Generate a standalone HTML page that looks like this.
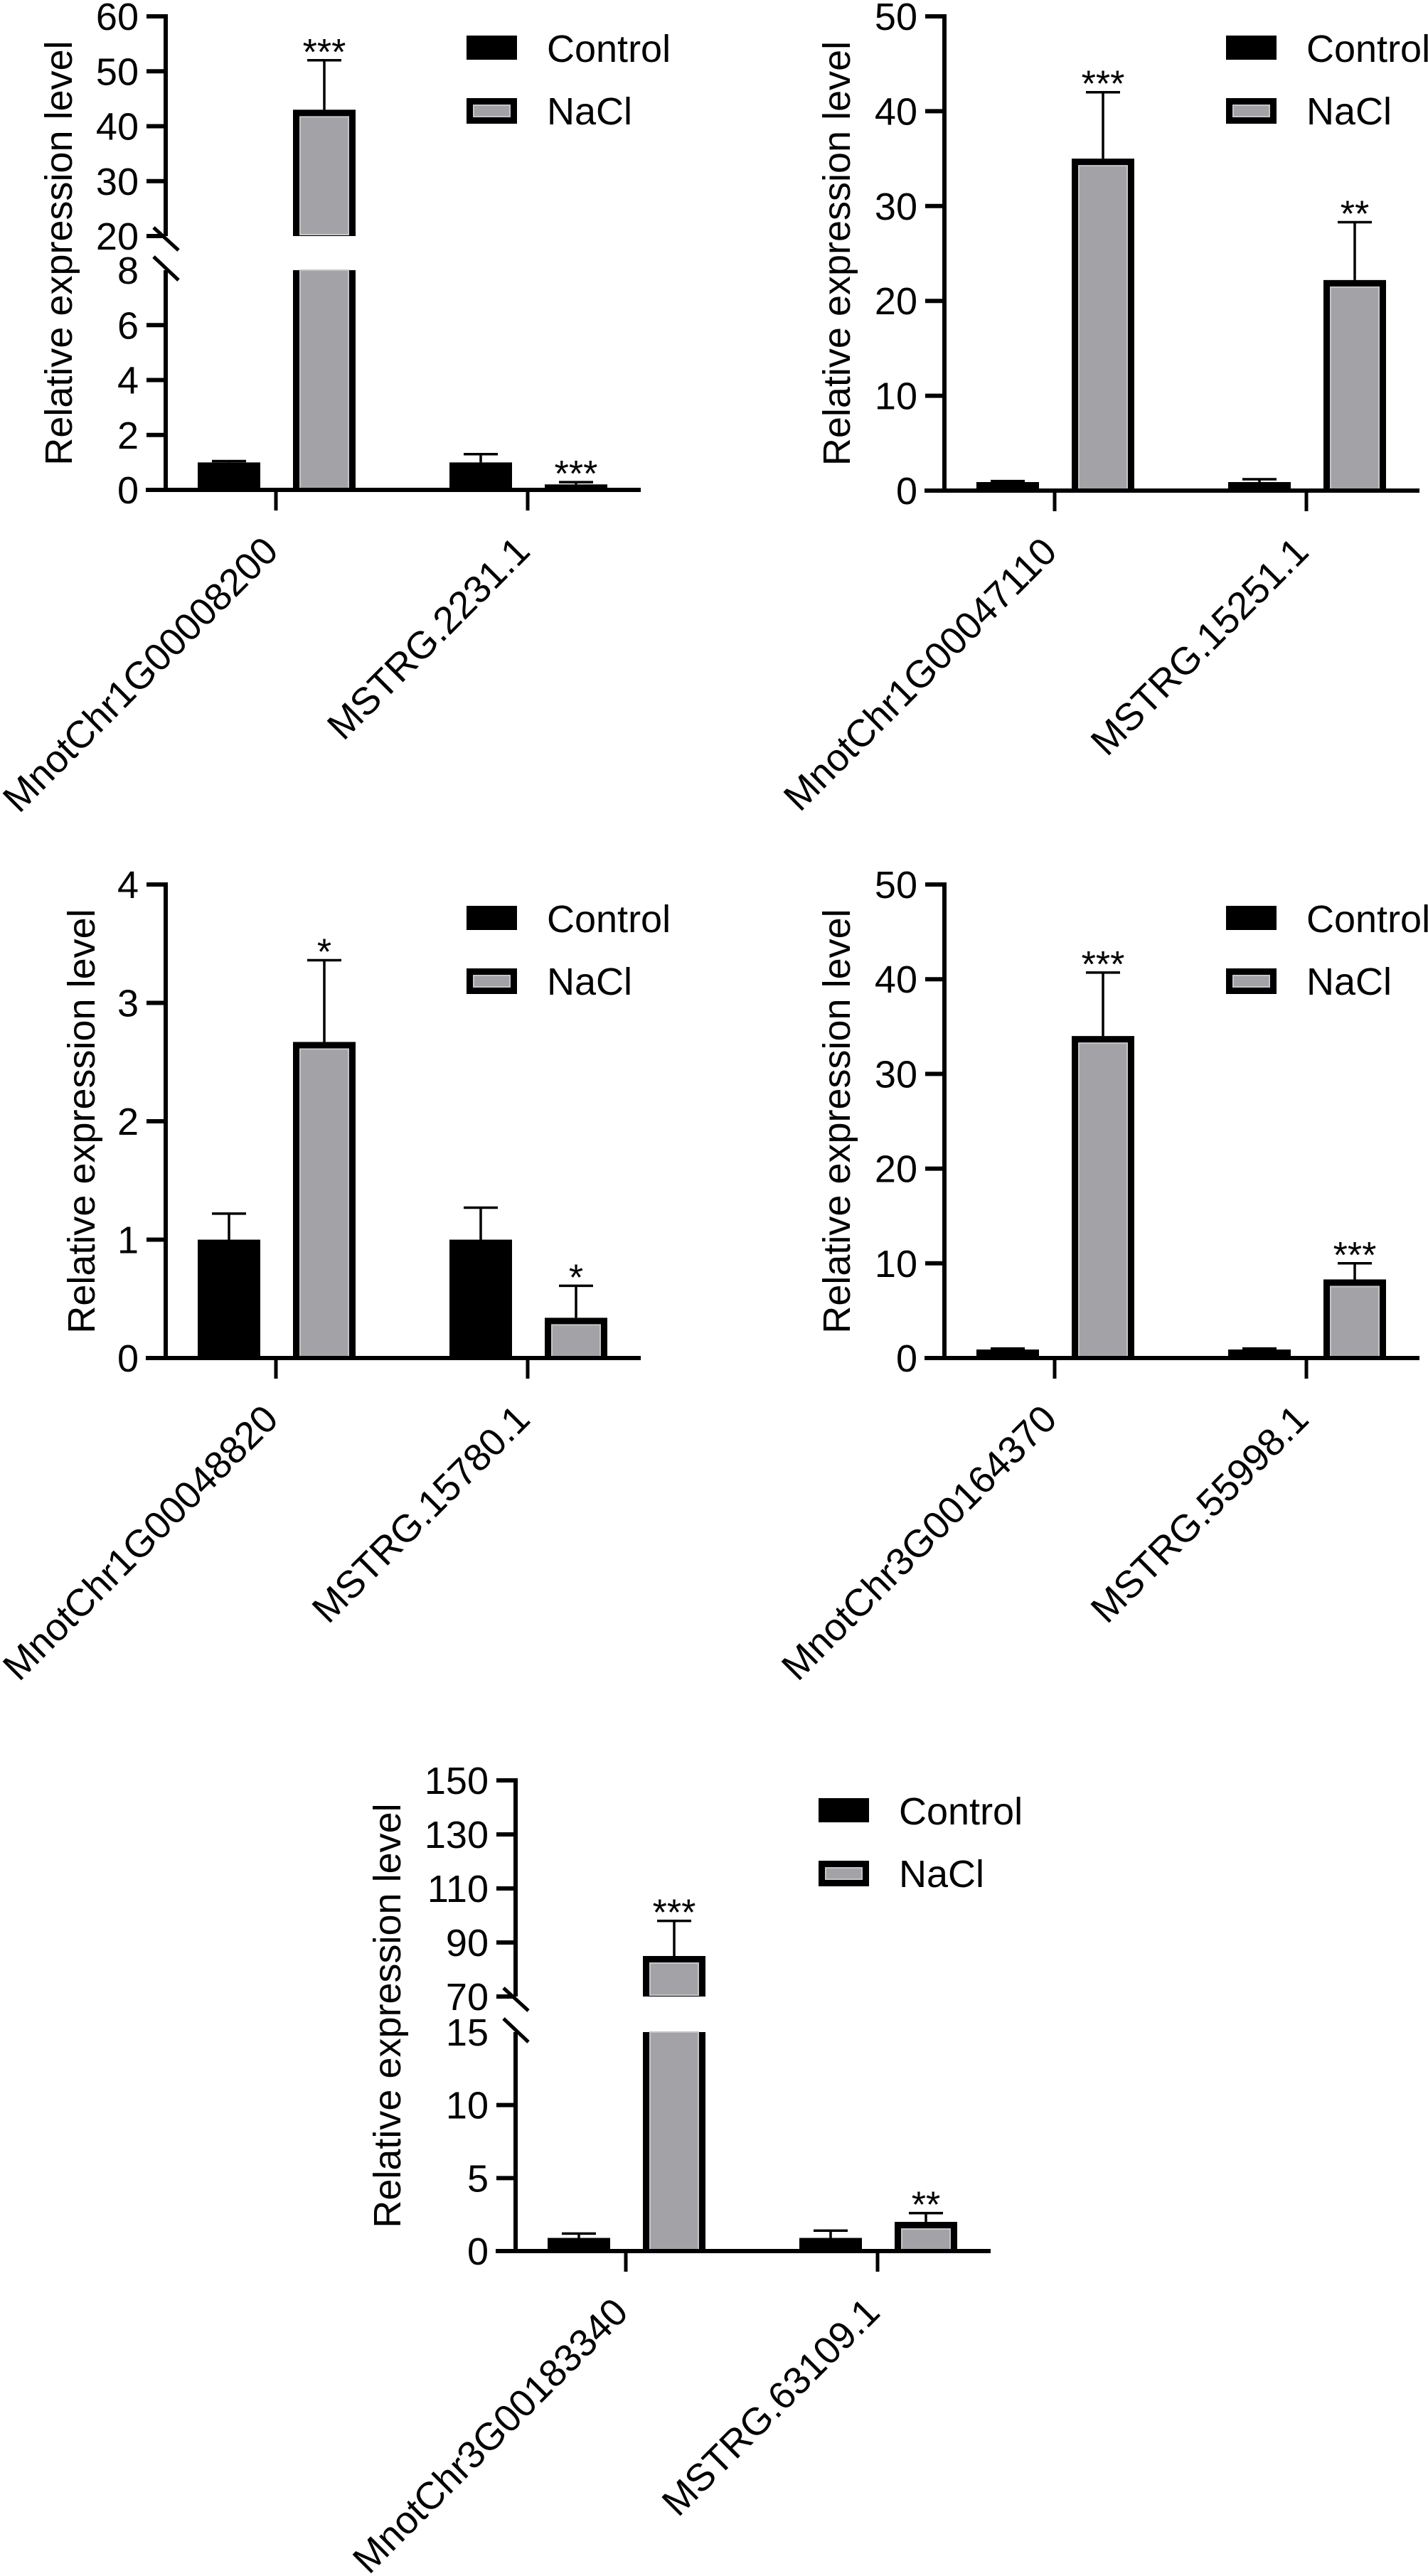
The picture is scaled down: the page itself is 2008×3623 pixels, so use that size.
<!DOCTYPE html>
<html>
<head>
<meta charset="utf-8">
<style>
html,body{margin:0;padding:0;background:#fff;}
svg{display:block;}
text{font-family:"Liberation Sans",Arial,sans-serif;fill:#000;}
</style>
</head>
<body>
<svg id="fig" xmlns="http://www.w3.org/2000/svg" width="2008" height="3623" viewBox="0 0 2008 3623">
<rect x="0" y="0" width="2008" height="3623" fill="#fff"/>
</svg>
<script>
// ---------- Panel data ----------
const p1Categories = ["MnotChr1G00008200", "MSTRG.2231.1"];
const p1Control = [1.0, 1.0];
const p1ControlErr = [1.05, 1.3];
const p1NaCl = [43, 0.2];
const p1NaClErr = [52, 0.28];
const p1Sig = ["***", "***"];
const p1TicksLower = [0, 2, 4, 6, 8];
const p1TicksUpper = [20, 30, 40, 50, 60];

const p2Categories = ["MnotChr1G00047110", "MSTRG.15251.1"];
const p2Control = [0.9, 0.9];
const p2ControlErr = [1.0, 1.2];
const p2NaCl = [35, 22.2];
const p2NaClErr = [42, 28.3];
const p2Sig = ["***", "**"];
const p2Ticks = [0, 10, 20, 30, 40, 50];

const p3Categories = ["MnotChr1G00048820", "MSTRG.15780.1"];
const p3Control = [1.0, 1.0];
const p3ControlErr = [1.22, 1.27];
const p3NaCl = [2.67, 0.34];
const p3NaClErr = [3.36, 0.61];
const p3Sig = ["*", "*"];
const p3Ticks = [0, 1, 2, 3, 4];

const p4Categories = ["MnotChr3G00164370", "MSTRG.55998.1"];
const p4Control = [0.9, 0.9];
const p4ControlErr = [1.0, 1.0];
const p4NaCl = [34, 8.3];
const p4NaClErr = [40.7, 10];
const p4Sig = ["***", "***"];
const p4Ticks = [0, 10, 20, 30, 40, 50];

const p5Categories = ["MnotChr3G00183340", "MSTRG.63109.1"];
const p5Control = [0.9, 0.9];
const p5ControlErr = [1.2, 1.4];
const p5NaCl = [85, 2.0];
const p5NaClErr = [98, 2.6];
const p5Sig = ["***", "**"];
const p5TicksLower = [0, 5, 10, 15];
const p5TicksUpper = [70, 90, 110, 130, 150];

const legendLabels = ["Control", "NaCl"];

// ---------- Drawing ----------
const NS = "http://www.w3.org/2000/svg";
const svg = document.getElementById("fig");
const GRAY = "#a3a3a7";
const GRAY_EDGE = "#c4c4c8";
const FS = 54;

function mk(tag, attrs, parent) {
  const e = document.createElementNS(NS, tag);
  for (const k in attrs) e.setAttribute(k, attrs[k]);
  parent.appendChild(e);
  return e;
}

function makeScale(g) {
  if (!g.brk) {
    return v => g.zeroY - v * (g.zeroY - g.topY) / g.max;
  }
  const b = g.brk;
  return v => {
    if (v <= b.lowMax) return g.zeroY - v * (g.zeroY - b.lowTopY) / b.lowMax;
    if (v < b.upMin) return b.lowTopY - (v - b.lowMax) / (b.upMin - b.lowMax) * (b.lowTopY - b.upBotY);
    return b.upBotY - (v - b.upMin) * (b.upBotY - g.topY) / (g.max - b.upMin);
  };
}

function drawPanel(id, g, cats, ctrl, ctrlErr, nacl, naclErr, sig, ticks) {
  const root = mk("g", {}, svg);
  
  
  const y = makeScale(g);
  const ax = g.axisX;
  const catX = i => ax + 155 + i * 354;
  const bw = 88;

  if (g.brk) {
    const l1 = mk("line", {x1: ax, y1: g.topY - 3, x2: ax, y2: g.brk.upBotY, stroke: "#000", "stroke-width": 6}, root);
    
    
    const l2 = mk("line", {x1: ax, y1: g.brk.lowTopY, x2: ax, y2: g.zeroY, stroke: "#000", "stroke-width": 6}, root);
    
    
    const s1 = mk("line", {x1: ax - 17, y1: g.brk.upBotY - 12, x2: ax + 18, y2: g.brk.upBotY + 20, stroke: "#000", "stroke-width": 5}, root);
    
    
    const s2 = mk("line", {x1: ax - 17, y1: g.brk.lowTopY - 19, x2: ax + 18, y2: g.brk.lowTopY + 14, stroke: "#000", "stroke-width": 5}, root);
    
    
  } else {
    const l = mk("line", {x1: ax, y1: g.topY - 3, x2: ax, y2: g.zeroY, stroke: "#000", "stroke-width": 6}, root);
    
    
  }

  ticks.forEach(v => {
    const ty = y(v);
    const hideMark = g.brk && v === g.brk.lowMax;
    if (!hideMark) {
      const t = mk("line", {x1: ax - 27, y1: ty, x2: ax, y2: ty, stroke: "#000", "stroke-width": 6}, root);
      
      
    }
    const lab = mk("text", {x: ax - 38, y: ty + 19, "font-size": FS, "text-anchor": "end"}, root);
    lab.textContent = String(v);
    
    
  });

  const tx = g.titleX, tyc = (g.topY + g.zeroY) / 2;
  const title = mk("text", {x: 0, y: 0, "font-size": FS, "text-anchor": "middle", transform: `translate(${tx},${tyc}) rotate(-90)`}, root);
  title.textContent = "Relative expression level";
  
  

  cats.forEach((c, i) => {
    const cx = catX(i);
    const cL = cx - 66 - bw / 2;
    const cTop = y(ctrl[i]);
    const cb = mk("rect", {x: cL, y: cTop, width: bw, height: g.zeroY - cTop, fill: "#000"}, root);
    
    
    const ce = mk("line", {x1: cL + bw / 2, y1: y(ctrlErr[i]), x2: cL + bw / 2, y2: cTop, stroke: "#000", "stroke-width": 3.5}, root);
    
    
    const cc = mk("line", {x1: cL + bw / 2 - 24, y1: y(ctrlErr[i]), x2: cL + bw / 2 + 24, y2: y(ctrlErr[i]), stroke: "#000", "stroke-width": 3.5}, root);
    
    

    const nL = cx + 68 - bw / 2;
    const nTop = y(nacl[i]);
    const segs = [];
    if (g.brk && nacl[i] > g.brk.upMin) {
      segs.push([g.brk.lowTopY, g.zeroY, false]);
      segs.push([nTop, g.brk.upBotY, true]);
    } else {
      segs.push([nTop, g.zeroY, true]);
    }
    segs.forEach(s => {
      const [t, b, hasTop] = s;
      const outer = mk("rect", {x: nL, y: t, width: bw, height: b - t, fill: "#000"}, root);
      
      
      const it = hasTop ? t + 10 : t;
      const ib = b - 2;
      if (ib > it) {
        const inner = mk("rect", {x: nL + 10, y: it, width: bw - 20, height: ib - it, fill: GRAY, stroke: GRAY_EDGE, "stroke-width": 2}, root);
        
        
      }
    });
    const nx = nL + bw / 2;
    const ne = mk("line", {x1: nx, y1: y(naclErr[i]), x2: nx, y2: nTop, stroke: "#000", "stroke-width": 3.5}, root);
    
    
    const nc = mk("line", {x1: nx - 24, y1: y(naclErr[i]), x2: nx + 24, y2: y(naclErr[i]), stroke: "#000", "stroke-width": 3.5}, root);
    
    
    const st = mk("text", {x: nx, y: y(naclErr[i]) + 6, "font-size": 52, "text-anchor": "middle"}, root);
    st.textContent = sig[i];
    
    
  });

  const xa = mk("line", {x1: ax - 28, y1: g.zeroY, x2: ax + 668, y2: g.zeroY, stroke: "#000", "stroke-width": 6}, root);
  
  
  cats.forEach((c, i) => {
    const cx = catX(i);
    const tk = mk("line", {x1: cx, y1: g.zeroY, x2: cx, y2: g.zeroY + 29, stroke: "#000", "stroke-width": 5}, root);
    
    
    const lab = mk("text", {x: 0, y: 0, "font-size": FS, "text-anchor": "end", transform: `translate(${cx + 6},${g.zeroY + 29 + 60}) rotate(-45)`}, root);
    lab.textContent = c;
    
    
  });

  const lx = g.legX, ly = g.legY;
  const r1 = mk("rect", {x: lx, y: ly, width: 71, height: 34, fill: "#000"}, root);
  
  
  const t1 = mk("text", {x: lx + 113, y: ly + 37, "font-size": FS}, root);
  t1.textContent = legendLabels[0];
  
  
  const r2 = mk("rect", {x: lx, y: ly + 88, width: 71, height: 36, fill: "#000"}, root);
  
  
  const r2i = mk("rect", {x: lx + 10, y: ly + 98, width: 51, height: 16, fill: GRAY, stroke: GRAY_EDGE, "stroke-width": 2}, root);
  
  
  const t2 = mk("text", {x: lx + 113, y: ly + 125, "font-size": FS}, root);
  t2.textContent = legendLabels[1];
  
  
}

drawPanel("panel-1", {axisX: 233, zeroY: 689, topY: 23, max: 60,
  brk: {lowMax: 8, upMin: 20, lowTopY: 380, upBotY: 332}, titleX: 101, legX: 656, legY: 50},
  p1Categories, p1Control, p1ControlErr, p1NaCl, p1NaClErr, p1Sig, p1TicksLower.concat(p1TicksUpper));

drawPanel("panel-2", {axisX: 1328, zeroY: 690, topY: 23, max: 50, titleX: 1195, legX: 1724, legY: 50},
  p2Categories, p2Control, p2ControlErr, p2NaCl, p2NaClErr, p2Sig, p2Ticks);

drawPanel("panel-3", {axisX: 233, zeroY: 1910, topY: 1244, max: 4, titleX: 133, legX: 656, legY: 1274},
  p3Categories, p3Control, p3ControlErr, p3NaCl, p3NaClErr, p3Sig, p3Ticks);

drawPanel("panel-4", {axisX: 1328, zeroY: 1910, topY: 1244, max: 50, titleX: 1195, legX: 1724, legY: 1274},
  p4Categories, p4Control, p4ControlErr, p4NaCl, p4NaClErr, p4Sig, p4Ticks);

drawPanel("panel-5", {axisX: 725, zeroY: 3166, topY: 2504, max: 150,
  brk: {lowMax: 15, upMin: 70, lowTopY: 2858, upBotY: 2808}, titleX: 563, legX: 1151, legY: 2529},
  p5Categories, p5Control, p5ControlErr, p5NaCl, p5NaClErr, p5Sig, p5TicksLower.concat(p5TicksUpper));
</script>
</body>
</html>
